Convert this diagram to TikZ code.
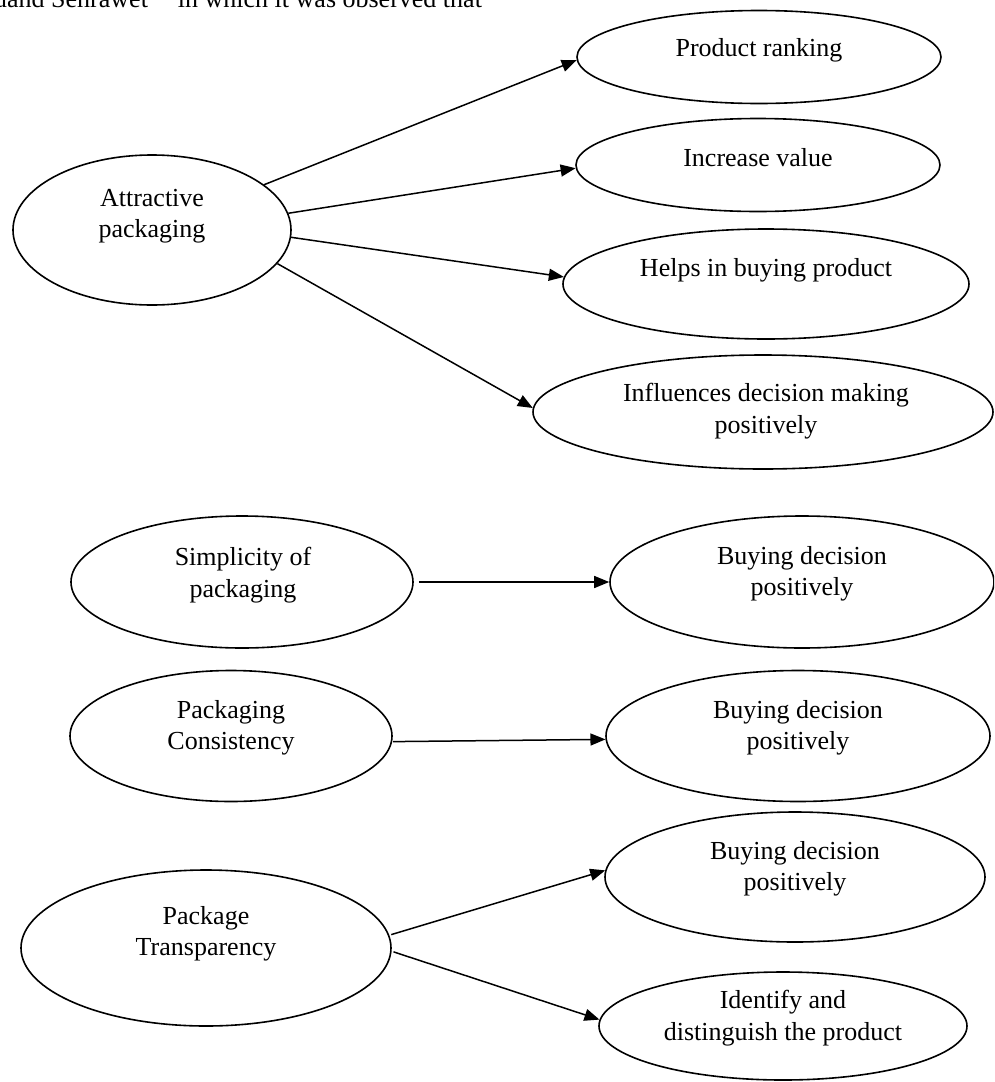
\documentclass[tikz,border=0pt]{standalone}
\usepackage{fontspec}
\setmainfont{Liberation Serif}
\usetikzlibrary{shapes.geometric,arrows.meta}
\tikzset{
  ell/.style={draw, line width=1.6pt, ellipse, inner sep=0pt},
  lbl/.style={font=\fontsize{26}{31.5}\selectfont, align=center, inner sep=0pt},
  arr/.style={-{Triangle[length=15pt,width=12pt]}, line width=1.5pt}
}
\begin{document}
\begin{tikzpicture}[x=1pt,y=-1pt]
\useasboundingbox (0,0) rectangle (994,1082);
\clip (0,0) rectangle (994,1082);
\node[lbl, anchor=base west] (toptext) at (-6,7) {uand Sehrawet\hspace{30pt}in which it was observed that};

% ellipses
\node[ell, minimum width=278, minimum height=150] (attr) at (152,230) {};
\node[ell, minimum width=364, minimum height=93] (pr) at (759,57) {};
\node[ell, minimum width=364, minimum height=93] (inc) at (758,165) {};
\node[ell, minimum width=406, minimum height=110] (help) at (766,284) {};
\node[ell, minimum width=460, minimum height=114] (infl) at (763,412) {};
\node[ell, minimum width=342, minimum height=132] (simp) at (242,582) {};
\node[ell, minimum width=384, minimum height=132] (buy1) at (802,582) {};
\node[ell, minimum width=322, minimum height=131] (cons) at (231,736) {};
\node[ell, minimum width=384, minimum height=131] (buy2) at (798,736) {};
\node[ell, minimum width=370, minimum height=156] (trans) at (206,948) {};
\node[ell, minimum width=380, minimum height=130] (buy3) at (795,877) {};
\node[ell, minimum width=368, minimum height=108] (ident) at (783,1026) {};

% labels
\node[lbl] (attrT) at (152,216) {Attractive\\packaging};
\node[lbl] (prT) at (759,50) {Product ranking};
\node[lbl] (incT) at (758,158) {Increase value};
\node[lbl] (helpT) at (766,270) {Helps in buying product};
\node[lbl] (inflT) at (766,411) {Influences decision making\\positively};
\node[lbl] (simpT) at (243,575) {Simplicity of\\packaging};
\node[lbl] (buy1T) at (802,574) {Buying decision\\positively};
\node[lbl] (consT) at (231,728) {Packaging\\Consistency};
\node[lbl] (buy2T) at (798,728) {Buying decision\\positively};
\node[lbl] (transT) at (206,934) {Package\\Transparency};
\node[lbl] (buy3T) at (795,869) {Buying decision\\positively};
\node[lbl] (identT) at (783,1018) {Identify and\\distinguish the product};

% connectors
\draw[arr] (attr.22) -- (pr.181);
\draw[arr] (attr.7) -- (inc.181);
\draw[arr] (attr.-3) -- (help.178);
\draw[arr] (attr.-15) -- (infl.179.5);
\draw[arr, shorten <=5pt] (simp.east) -- (buy1.west);
\draw[arr, shorten <=1pt] (cons.-2) -- (buy2.181.8);
\draw[arr, shorten <=2pt] (trans.4) -- (buy3.178);
\draw[arr, shorten <=2pt] (trans.-1) -- (ident.178);
\end{tikzpicture}
\end{document}
